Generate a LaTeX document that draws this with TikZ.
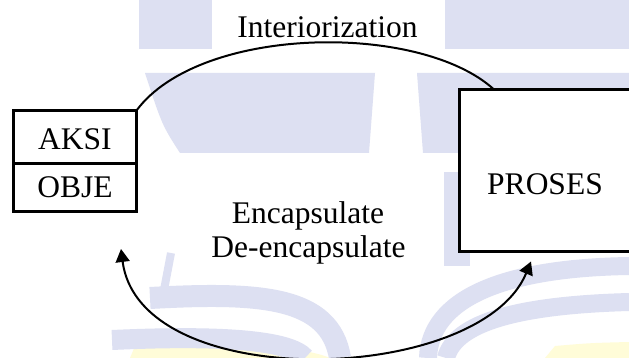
\documentclass[tikz,border=0pt]{standalone}
\usepackage{fontspec}
\setmainfont{Liberation Serif}
\usetikzlibrary{arrows.meta}

\definecolor{wmblue}{HTML}{DDE0F2}
\definecolor{wmyellow}{HTML}{FFFCD8}

\tikzset{
  lbl/.style={font=\fontsize{31.5}{36}\selectfont, inner sep=0pt},
  boxnode/.style={draw, line width=3pt, fill=white, inner sep=0pt, outer sep=0pt,
                  font=\fontsize{31.5}{36}\selectfont},
  link/.style={line width=2pt},
  bothtips/.style={{Triangle[length=13pt,width=14pt]}-{Triangle[length=13pt,width=14pt]}},
  wm/.style={fill=wmblue, draw=none},
  wmstroke/.style={draw=wmblue, line cap=butt},
}

\begin{document}
\begin{tikzpicture}[x=1pt,y=-1pt]
  \useasboundingbox (0,0) rectangle (629,358);
  \clip (0,0) rectangle (629,358);
  \fill[white] (0,0) rectangle (629,358);

  % faint logo in the background
  \fill[wm] (139,0) rectangle (212,49);
  \fill[wm] (445,0) rectangle (629,49);
  \fill[wm] (145,73) -- (375,73) -- (369,153) -- (180,153)
        .. controls (162,125) .. (145,73) -- cycle;
  \fill[wm] (417,73) -- (629,73) -- (629,153) -- (423,153) -- cycle;
  \fill[wm] (444,172) rectangle (470,266);
  \fill[wmyellow] (130,358) -- (135,346) .. controls (220,343) and (300,345) .. (330,358) -- cycle;
  \fill[wmyellow] (545,358) -- (555,346) .. controls (590,343) .. (629,342) -- (629,358) -- cycle;
  \draw[wmstroke, line width=8pt] (171,253) -- (164,290);
  \draw[wmstroke, line width=22pt] (150,298) .. controls (260,292) and (330,296) .. (340,358);
  \draw[wmstroke, line width=20pt] (112,340) .. controls (220,335) and (290,340) .. (305,358);
  \draw[wmstroke, line width=18pt] (428,358) .. controls (430,300) and (500,268) .. (629,266);
  \draw[wmstroke, line width=18pt] (446,358) .. controls (455,322) and (520,305) .. (629,302);

  % boxes
  \node[boxnode, minimum width=123pt, minimum height=53.5pt,
        text height=25.5pt, text depth=0pt] (aksi) at (75,137.25) {AKSI};
  \node[boxnode, minimum width=123pt, minimum height=48pt,
        text height=21pt, text depth=3pt] (obje) at (75,188) {OBJE};
  \node[boxnode, anchor=north west, minimum width=250pt, minimum height=161.5pt]
        (proses) at (459,89.5) {};
  \node[lbl, anchor=base] (prosesLbl) at (545,195) {PROSES};

  % labels
  \node[lbl, anchor=base] (interior) at (327.5,38) {Interiorization};
  \node[lbl, anchor=base] (encap) at (308,223) {Encapsulate};
  \node[lbl, anchor=base] (deencap) at (308.5,258) {De-encapsulate};

  % connectors
  \coordinate (intEnd) at (494,89.5);
  \draw[link] (aksi.north east) .. controls (200,25) and (420,22) .. (intEnd);

  \coordinate (leftTip) at (121,249);
  \coordinate (rightTip) at (531,261.5);
  \draw[link, bothtips] (leftTip) .. controls (140,395) and (480,385) .. (rightTip);
\end{tikzpicture}
\end{document}
